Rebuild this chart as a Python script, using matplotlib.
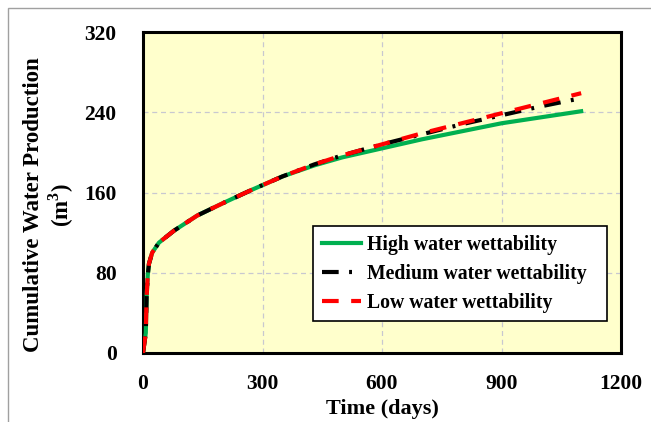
import matplotlib
matplotlib.use("Agg")
import matplotlib.pyplot as plt
from matplotlib.patches import Rectangle

days = [0, 7, 9, 12, 15, 23, 40, 78, 136, 204, 275, 350, 430, 500, 600, 700, 800, 900, 1000, 1100]
high = [0, 20, 55, 78, 89, 100, 110, 122, 137, 150, 163, 176, 187, 195, 204, 213, 221, 229, 235, 241]
medium = [0, 20, 55, 78, 89, 100, 110, 122, 137, 150, 163, 176, 188, 197, 208, 218, 228, 237, 246, 254]
low = [0, 20, 55, 78, 89, 100, 110, 122, 137, 150, 163, 176, 188, 197, 208, 219, 229, 239, 249, 259]
labels = ["High water wettability", "Medium water wettability", "Low water wettability"]
xticks = [0, 300, 600, 900, 1200]
yticks = [0, 80, 160, 240, 320]

plt.rcParams['font.family'] = ['Liberation Serif', 'DejaVu Serif']
plt.rcParams['font.weight'] = 'bold'
plt.rcParams['mathtext.fontset'] = 'custom'
plt.rcParams['mathtext.rm'] = 'Liberation Serif:bold'
plt.rcParams['mathtext.bf'] = 'Liberation Serif:bold'

fig = plt.figure(figsize=(6.51, 4.22), dpi=100)
ax = fig.add_axes([143/651, 1 - 353/422, (621-143)/651, (353-32)/422])
ax.set_facecolor('#FFFFCC')

ax.plot(days, high, color='#00B050', lw=3, label=labels[0], zorder=3)
ax.plot(days, medium, color='black', lw=3, dashes=(4, 2.5, 0.7, 2.5), label=labels[1], zorder=4)
ax.plot(days, low, color='#FF0000', lw=3, dashes=(4, 3), label=labels[2], zorder=5)

ax.set_xlim(0, 1200)
ax.set_ylim(0, 320)
ax.set_xticks(xticks)
ax.set_yticks(yticks)
ax.tick_params(axis='y', length=0, labelsize=15.5, pad=19)
ax.tick_params(axis='x', length=0, labelsize=15.5, pad=15)
for lab in ax.get_xticklabels() + ax.get_yticklabels():
    lab.set_fontweight('bold')
ax.grid(True, color='#C8C8D0', ls=(0, (4, 3)), lw=0.9)
ax.set_axisbelow(True)
for s in ax.spines.values():
    s.set_linewidth(2.2)
    s.set_color('black')

ax.set_xlabel("Time (days)", fontsize=16, fontweight='bold', labelpad=4)
ax.set_ylabel("Cumulative Water Production\n(m$^{3}$)", fontsize=16.5, fontweight='bold',
              linespacing=1.1)
ax.yaxis.set_label_coords(-(143 - 76) / 478, 0.5 - 12 / 321)

leg = ax.legend(loc='upper left', bbox_to_anchor=(0.356, 0.296, 0.614, 0.1), mode='expand',
                fontsize=14.2, frameon=True, fancybox=False, edgecolor='black',
                handlelength=2.0, handletextpad=0.3, borderaxespad=0, labelspacing=0.45,
                borderpad=0.45)
leg.get_frame().set_linewidth(1.2)
leg.get_frame().set_facecolor('white')
leg.get_frame().set_alpha(1)
for t in leg.get_texts():
    t.set_fontweight('bold')

fig.patches.append(Rectangle((8/651, -0.1), 1.2, 1.1 - 8/422, transform=fig.transFigure,
                             fill=False, edgecolor='#A0A0A0', lw=1))

fig.savefig("out.png", dpi=100)
